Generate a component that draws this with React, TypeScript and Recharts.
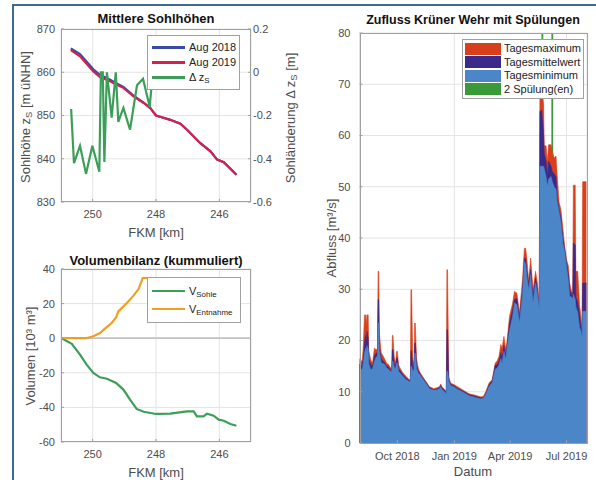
import React from 'react';
import {
  LineChart,
  Line,
  ComposedChart,
  Area,
  XAxis,
  YAxis,
  CartesianGrid,
  Legend,
  ReferenceLine,
} from 'recharts';

// Mittlere Sohlhöhen (FKM in km, Höhe in m üNHN)
const profileKm = [250.69, 250.4, 249.98, 249.77, 249.45, 249.24, 249.03, 248.71, 248.39, 248.18, 248.0, 247.87, 247.55, 247.23, 247.02, 246.6, 246.28, 246.07, 245.86, 245.46];
const sohle2018 = [865.5, 864.2, 860.7, 859.4, 858.3, 857.4, 856.6, 854.6, 853.0, 851.7, 850.0, 849.7, 849.0, 848.1, 846.7, 843.6, 841.7, 839.8, 839.2, 836.3];
const sohle2019 = [865.1, 863.7, 860.2, 858.9, 857.9, 857.1, 856.4, 854.4, 852.9, 851.7, 850.0, 849.7, 849.0, 848.1, 846.7, 843.6, 841.7, 839.8, 839.2, 836.3];
const deltaKm = [250.68, 250.59, 250.4, 250.21, 250.01, 249.79, 249.74, 249.68, 249.63, 249.55, 249.4, 249.27, 249.19, 249.03, 248.82, 248.6, 248.41, 248.2, 248.15];
const deltaZs = [-0.17, -0.42, -0.34, -0.47, -0.34, -0.46, 0.0, 0.0, -0.415, 0.0, -0.21, 0.0, -0.23, -0.165, -0.265, -0.06, -0.03, -0.16, -0.08];

// Volumenbilanz (10³ m³)
const sohleVolKm = [250.98, 250.82, 250.66, 250.4, 250.19, 249.98, 249.77, 249.55, 249.26, 249.03, 248.82, 248.61, 248.39, 248.0, 247.55, 247.02, 246.81, 246.71, 246.5, 246.39, 246.18, 246.02, 245.86, 245.65, 245.46];
const sohleVol = [0, -1.6, -3.2, -9.5, -15.3, -20.1, -22.6, -23.4, -25.9, -29.7, -35.5, -40.9, -42.5, -43.8, -43.6, -42.3, -42.3, -45.2, -45.2, -43.6, -44.8, -47.1, -47.7, -49.6, -50.6];
const entnahmeKm = [250.98, 250.21, 249.98, 249.77, 249.55, 249.4, 249.26, 249.19, 248.92, 248.71, 248.55, 248.42, 245.46];
const entnahmeVol = [0, 0, 1.1, 3, 6.5, 8.8, 12, 15.5, 20.3, 24.6, 28.4, 34.8, 34.8];

// Zufluss Krüner Wehr (m³/s)
const flowDates = [
  '2018-08-01', '2018-08-03', '2018-08-05', '2018-08-07', '2018-08-09', '2018-08-11', '2018-08-12', '2018-08-13', '2018-08-15', '2018-08-16',
  '2018-08-19', '2018-08-22', '2018-08-25', '2018-08-28', '2018-08-30', '2018-08-31', '2018-09-01', '2018-09-02', '2018-09-05', '2018-09-08',
  '2018-09-11', '2018-09-14', '2018-09-17', '2018-09-20', '2018-09-22', '2018-09-23', '2018-09-24', '2018-09-26', '2018-09-28', '2018-09-30',
  '2018-10-01', '2018-10-03', '2018-10-06', '2018-10-10', '2018-10-15', '2018-10-20', '2018-10-22', '2018-10-23', '2018-10-24', '2018-10-26',
  '2018-10-28', '2018-10-29', '2018-10-30', '2018-11-01', '2018-11-04', '2018-11-07', '2018-11-14', '2018-11-22', '2018-11-29', '2018-12-04',
  '2018-12-08', '2018-12-10', '2018-12-12', '2018-12-16', '2018-12-19', '2018-12-20', '2018-12-21', '2018-12-23', '2018-12-26', '2018-12-31',
  '2019-01-06', '2019-01-14', '2019-01-25', '2019-02-04', '2019-02-13', '2019-02-17', '2019-02-21', '2019-02-26', '2019-03-03', '2019-03-08',
  '2019-03-11', '2019-03-14', '2019-03-17', '2019-03-19', '2019-03-22', '2019-03-25', '2019-03-27', '2019-03-31', '2019-04-05', '2019-04-08',
  '2019-04-12', '2019-04-16', '2019-04-21', '2019-04-24', '2019-04-26', '2019-04-28', '2019-05-01', '2019-05-04', '2019-05-08', '2019-05-12',
  '2019-05-15', '2019-05-18', '2019-05-19', '2019-05-22', '2019-05-25', '2019-05-26', '2019-05-29', '2019-05-31', '2019-06-02', '2019-06-06',
  '2019-06-08', '2019-06-11', '2019-06-14', '2019-06-16', '2019-06-19', '2019-06-22', '2019-06-25', '2019-06-28', '2019-07-01', '2019-07-04',
  '2019-07-06', '2019-07-09', '2019-07-11', '2019-07-12', '2019-07-15', '2019-07-16', '2019-07-19', '2019-07-22', '2019-07-24', '2019-07-26',
  '2019-07-27', '2019-08-02',
];
const flowMax = [
  16.4, 16.2, 15.8, 18.5, 25.0, 25.0, 23.0, 25.0, 25.0, 18.0,
  16.3, 15.5, 18.5, 18.2, 18.5, 33.5, 33.5, 21.5, 17.6, 17.0,
  16.3, 15.5, 15.3, 14.7, 14.6, 21.0, 21.0, 16.8, 15.5, 17.9,
  17.9, 15.2, 14.5, 13.7, 13.0, 12.4, 12.3, 29.9, 29.9, 16.3,
  15.5, 23.4, 23.4, 16.5, 14.5, 13.7, 12.4, 11.0, 10.6, 10.8,
  11.0, 11.5, 11.0, 10.5, 10.1, 33.8, 33.8, 13.0, 11.7, 11.4,
  11.0, 10.4, 9.6, 9.3, 9.0, 9.1, 10.1, 11.7, 12.4, 15.6,
  16.0, 16.9, 19.2, 18.5, 20.8, 18.2, 20.0, 24.7, 27.3, 29.6,
  29.2, 25.4, 31.9, 38.0, 38.0, 36.0, 31.5, 36.1, 29.9, 33.5,
  31.2, 26.7, 68.0, 69.0, 66.0, 58.0, 58.0, 55.0, 58.2, 58.2,
  56.9, 55.6, 56.0, 52.0, 47.0, 45.5, 42.0, 38.4, 35.8, 34.5,
  31.2, 29.6, 29.3, 50.3, 50.3, 33.5, 33.5, 27.0, 25.0, 22.0,
  51.0, 51.0,
];
const flowMean = [
  15.3, 15.2, 15.0, 16.5, 19.5, 21.0, 19.5, 21.8, 20.5, 16.5,
  15.3, 15.0, 17.0, 17.5, 17.8, 28.0, 28.0, 18.8, 16.5, 16.0,
  15.6, 15.0, 14.8, 14.3, 14.2, 18.2, 18.2, 15.5, 15.0, 16.6,
  16.6, 14.5, 14.0, 13.3, 12.7, 12.2, 12.1, 18.0, 18.0, 15.0,
  14.8, 19.5, 19.5, 15.2, 14.0, 13.4, 12.2, 10.8, 10.4, 10.6,
  10.8, 11.2, 10.8, 10.3, 9.8, 22.1, 22.1, 12.4, 11.4, 11.2,
  10.7, 10.2, 9.4, 9.1, 8.8, 8.9, 9.8, 11.3, 12.1, 15.2,
  15.2, 16.0, 17.6, 16.5, 19.1, 17.0, 19.0, 23.4, 26.0, 28.0,
  28.2, 24.4, 30.0, 36.0, 36.0, 33.5, 31.0, 33.8, 28.6, 32.2,
  30.0, 26.5, 64.7, 65.0, 60.0, 56.5, 55.0, 52.0, 55.0, 54.0,
  53.0, 52.5, 52.0, 48.0, 45.5, 44.0, 40.0, 37.8, 35.2, 33.0,
  30.0, 29.0, 28.6, 39.0, 38.7, 28.5, 27.5, 25.0, 23.0, 21.3,
  31.2, 31.2,
];
const flowMin = [
  14.6, 14.5, 14.3, 15.5, 17.6, 18.5, 17.5, 19.0, 18.5, 15.5,
  14.3, 14.5, 15.9, 16.8, 17.0, 23.4, 23.4, 18.0, 15.6, 15.5,
  15.3, 14.6, 14.4, 14.0, 14.0, 16.0, 16.0, 14.8, 14.5, 15.6,
  15.6, 14.0, 13.6, 13.0, 12.4, 12.0, 11.9, 15.0, 15.0, 14.0,
  14.3, 17.5, 17.5, 14.5, 13.6, 13.2, 12.0, 10.6, 10.3, 10.4,
  10.6, 11.0, 10.5, 10.0, 9.6, 14.0, 14.0, 12.0, 11.2, 11.0,
  10.5, 10.0, 9.2, 8.9, 8.6, 8.8, 9.6, 11.0, 11.8, 14.4,
  14.6, 15.2, 16.5, 15.5, 17.9, 16.3, 18.5, 22.0, 24.7, 27.3,
  27.0, 23.4, 29.0, 35.4, 35.0, 32.5, 29.8, 32.8, 27.3, 31.2,
  29.0, 26.2, 54.0, 54.0, 54.0, 53.5, 52.0, 50.0, 51.5, 52.0,
  51.0, 50.0, 49.5, 47.0, 45.0, 43.0, 39.0, 37.3, 34.5, 31.5,
  28.6, 28.5, 28.0, 29.0, 28.0, 26.5, 25.5, 22.5, 22.0, 20.7,
  25.7, 25.7,
];
const flushDates = ['2019-05-23', '2019-06-08'];
const dateTicks = ['2018-10-01', '2019-01-01', '2019-04-01', '2019-07-01'];
const dateRange = ['2018-08-01', '2019-08-03'];
const monthNames = ['Jan', 'Feb', 'Mar', 'Apr', 'May', 'Jun', 'Jul', 'Aug', 'Sep', 'Oct', 'Nov', 'Dec'];

const FONT = '"Liberation Sans", Arial, Helvetica, sans-serif';
const TEXT = '#4d4d4d';
const GRID = '#e4e4e4';
const BOX = '#a0a0a0';
const FRAME = '#3f6b8a';

const toTime = (d: string) => {
  const [y, m, day] = d.split('-').map(Number);
  return Date.UTC(y, m - 1, day);
};
const fmtDate = (t: number) => {
  const d = new Date(t);
  return `${monthNames[d.getUTCMonth()]} ${d.getUTCFullYear()}`;
};

const tickStyle = { fill: TEXT, fontSize: 11, fontFamily: FONT };

const profileData = profileKm.map((km, i) => ({ km, z2018: sohle2018[i], z2019: sohle2019[i] }));
const deltaData = deltaKm.map((km, i) => ({ km, dz: deltaZs[i] }));
const sohleData = sohleVolKm.map((km, i) => ({ km, v: sohleVol[i] }));
const entnahmeData = entnahmeKm.map((km, i) => ({ km, v: entnahmeVol[i] }));
const flowData = flowDates.map((d, i) => ({ t: toTime(d), max: flowMax[i], mean: flowMean[i], min: flowMin[i] }));

const Sub = ({ children }: { children: React.ReactNode }) => (
  <sub style={{ fontSize: '0.72em', verticalAlign: '-0.3em', lineHeight: 0 }}>{children}</sub>
);

// absolutely placed text, centred on (x, y)
const Txt = ({ x, y, rot = false, size = 13, bold = false, color = TEXT, children }: any) => (
  <div
    style={{
      position: 'absolute',
      left: x,
      top: y,
      transform: `translate(-50%, -50%)${rot ? ' rotate(-90deg)' : ''}`,
      whiteSpace: 'nowrap',
      fontFamily: FONT,
      fontSize: size,
      fontWeight: bold ? 'bold' : 'normal',
      color,
      lineHeight: 1,
    }}
  >
    {children}
  </div>
);

const PlotBox = ({ x, y, w, h }: any) => (
  <div style={{ position: 'absolute', left: x, top: y, width: w, height: h, border: `1px solid ${BOX}`, boxSizing: 'border-box', pointerEvents: 'none' }} />
);

const LineLegend = ({ items, rowH }: { items: { label: React.ReactNode; color: string }[]; rowH: number }) => (
  <div style={{ background: '#fff', border: `1px solid ${BOX}`, padding: '4px 4px', fontFamily: FONT, fontSize: 11, color: '#222', whiteSpace: 'nowrap', boxSizing: 'border-box' }}>
    {items.map((it, i) => (
      <div key={i} style={{ display: 'flex', alignItems: 'center', height: rowH }}>
        <div style={{ width: 33, height: 2.5, background: it.color, marginRight: 4, flex: 'none' }} />
        <span style={{ lineHeight: 1 }}>{it.label}</span>
      </div>
    ))}
  </div>
);

const PatchLegend = ({ items }: { items: { label: string; color: string }[] }) => (
  <div style={{ background: '#fff', border: `1px solid ${BOX}`, padding: '2px 2px', fontFamily: FONT, fontSize: 11, color: '#222', whiteSpace: 'nowrap', boxSizing: 'border-box' }}>
    {items.map((it, i) => (
      <div key={i} style={{ display: 'flex', alignItems: 'center', height: 13.5 }}>
        <div style={{ width: 36, height: 12, background: it.color, marginRight: 3, flex: 'none' }} />
        <span style={{ lineHeight: 1 }}>{it.label}</span>
      </div>
    ))}
  </div>
);

const C2018 = '#3a4aa8';
const C2019 = '#d4204c';
const CDZ = '#3c9e58';
const CSOHLE = '#3c9e58';
const CENT = '#f0a020';
const CMAX = '#d8401c';
const CMEAN = '#3b2a8a';
const CMIN = '#4a86c8';
const CFLUSH = '#3a9a3a';

const SohlChart = () => (
  <LineChart width={300} height={240} margin={{ top: 29, right: 0, bottom: 0, left: 0 }} style={{ fontFamily: FONT }}>
    <CartesianGrid yAxisId="left" stroke={GRID} />
    <XAxis dataKey="km" type="number" domain={[245, 251]} reversed ticks={[250, 248, 246]} height={38}
      tick={tickStyle} axisLine={false} tickLine={{ stroke: BOX }} tickSize={-3} tickMargin={11} />
    <YAxis yAxisId="left" domain={[830, 870]} ticks={[830, 840, 850, 860, 870]} width={61}
      tick={tickStyle} axisLine={false} tickLine={{ stroke: BOX }} tickSize={-3} tickMargin={9} />
    <YAxis yAxisId="right" orientation="right" domain={[-0.6, 0.2]} ticks={[-0.6, -0.4, -0.2, 0, 0.2]} width={49}
      tickFormatter={(v: number) => (v === 0 ? '0' : v.toFixed(1))}
      tick={tickStyle} axisLine={false} tickLine={{ stroke: BOX }} tickSize={-3} tickMargin={5} />
    <Line yAxisId="left" data={profileData} dataKey="z2018" stroke={C2018} strokeWidth={2.2} dot={false} isAnimationActive={false} />
    <Line yAxisId="left" data={profileData} dataKey="z2019" stroke={C2019} strokeWidth={2.2} dot={false} isAnimationActive={false} />
    <Line yAxisId="right" data={deltaData} dataKey="dz" stroke={CDZ} strokeWidth={2.2} dot={false} isAnimationActive={false} />
    <Legend layout="vertical" align="center" verticalAlign="middle"
      wrapperStyle={{ left: 147, top: 35, width: 93 }}
      content={() => (
        <LineLegend rowH={15} items={[
          { label: 'Aug 2018', color: C2018 },
          { label: 'Aug 2019', color: C2019 },
          { label: <span>Δ z<Sub>S</Sub></span>, color: CDZ },
        ]} />
      )} />
  </LineChart>
);

const VolChart = () => (
  <LineChart width={300} height={240} margin={{ top: 29, right: 49, bottom: 0, left: 0 }} style={{ fontFamily: FONT }}>
    <CartesianGrid stroke={GRID} />
    <XAxis dataKey="km" type="number" domain={[245, 251]} reversed ticks={[250, 248, 246]} height={38}
      tick={tickStyle} axisLine={false} tickLine={{ stroke: BOX }} tickSize={-3} tickMargin={11} />
    <YAxis domain={[-60, 40]} ticks={[-60, -40, -20, 0, 20, 40]} width={61}
      tick={tickStyle} axisLine={false} tickLine={{ stroke: BOX }} tickSize={-3} tickMargin={9} />
    <ReferenceLine y={0} stroke="#b0b0b0" strokeWidth={1.2} />
    <Line data={sohleData} dataKey="v" stroke={CSOHLE} strokeWidth={2.2} dot={false} isAnimationActive={false} />
    <Line data={entnahmeData} dataKey="v" stroke={CENT} strokeWidth={2.2} dot={false} isAnimationActive={false} />
    <Legend layout="vertical" align="center" verticalAlign="middle"
      wrapperStyle={{ left: 147, top: 37, width: 94 }}
      content={() => (
        <LineLegend rowH={18} items={[
          { label: <span>V<Sub>Sohle</Sub></span>, color: CSOHLE },
          { label: <span>V<Sub>Entnahme</Sub></span>, color: CENT },
        ]} />
      )} />
  </LineChart>
);

const FlowChart = () => (
  <ComposedChart width={296} height={480} data={flowData} margin={{ top: 33, right: 9, bottom: 0, left: 0 }} style={{ fontFamily: FONT }}>
    <CartesianGrid stroke={GRID} />
    <XAxis dataKey="t" type="number" domain={dateRange.map(toTime)} ticks={dateTicks.map(toTime)} tickFormatter={fmtDate}
      height={37} tick={tickStyle} axisLine={false} tickLine={{ stroke: BOX }} tickSize={-3} tickMargin={12} />
    <YAxis domain={[0, 80]} ticks={[0, 10, 20, 30, 40, 50, 60, 70, 80]} width={59.5}
      tick={tickStyle} axisLine={false} tickLine={{ stroke: BOX }} tickSize={-3} tickMargin={12} />
    {flushDates.map((d) => (
      <ReferenceLine key={d} x={toTime(d)} stroke={CFLUSH} strokeWidth={1.8} zIndex={50} />
    ))}
    <Area type="linear" dataKey="max" fill={CMAX} stroke={CMAX} strokeWidth={0.6} fillOpacity={1} isAnimationActive={false} />
    <Area type="linear" dataKey="mean" fill={CMEAN} stroke={CMEAN} strokeWidth={0.6} fillOpacity={1} isAnimationActive={false} />
    <Area type="linear" dataKey="min" fill={CMIN} stroke={CMIN} strokeWidth={0.6} fillOpacity={1} isAnimationActive={false} />
    <Legend layout="vertical" align="center" verticalAlign="middle"
      wrapperStyle={{ left: 162, top: 39, width: 122 }}
      content={() => (
        <PatchLegend items={[
          { label: 'Tagesmaximum', color: CMAX },
          { label: 'Tagesmittelwert', color: CMEAN },
          { label: 'Tagesminimum', color: CMIN },
          { label: '2 Spülung(en)', color: CFLUSH },
        ]} />
      )} />
  </ComposedChart>
);

export default function App() {
  return (
    <div style={{ position: 'absolute', left: 0, top: 0, width: 596, height: 480, background: '#fff', overflow: 'hidden' }}>
      <div style={{ position: 'absolute', left: 12, top: 4, width: 584, height: 2, background: FRAME }} />
      <div style={{ position: 'absolute', left: 12, top: 4, width: 2, height: 476, background: FRAME }} />

      <div style={{ position: 'absolute', left: 0, top: 0 }}><SohlChart /></div>
      <PlotBox x={61} y={29} w={190} h={173} />
      <Txt x={156} y={18} bold color="#111">Mittlere Sohlhöhen</Txt>
      <Txt x={156} y={232}>FKM [km]</Txt>
      <Txt x={25} y={117} rot>Sohlhöhe z<Sub>S</Sub> [m üNHN]</Txt>
      <Txt x={290} y={118} rot>Sohländerung Δ z<Sub>S</Sub> [m]</Txt>

      <div style={{ position: 'absolute', left: 0, top: 240 }}><VolChart /></div>
      <PlotBox x={61} y={269} w={190} h={173} />
      <Txt x={156} y={259.5} bold color="#111">Volumenbilanz (kummuliert)</Txt>
      <Txt x={156} y={472}>FKM [km]</Txt>
      <Txt x={30} y={356} rot>Volumen [10³ m³]</Txt>

      <div style={{ position: 'absolute', left: 300, top: 0 }}><FlowChart /></div>
      <PlotBox x={359.5} y={33} w={228} h={410.5} />
      <Txt x={473} y={20} size={12.5} bold color="#111">Zufluss Krüner Wehr mit Spülungen</Txt>
      <Txt x={473} y={471}>Datum</Txt>
      <Txt x={331} y={238} rot>Abfluss [m³/s]</Txt>
    </div>
  );
}
